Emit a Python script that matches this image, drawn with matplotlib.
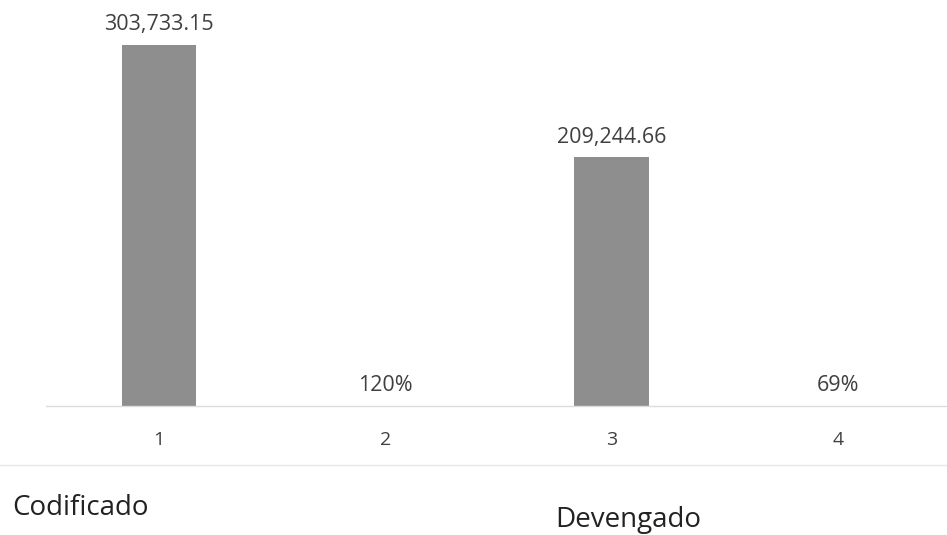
"""Bar chart: Codificado vs Devengado with percentage columns."""

import matplotlib
matplotlib.use("Agg")
import matplotlib.pyplot as plt
from matplotlib.lines import Line2D

categories = ["1", "2", "3", "4"]
values = [303733.15, 1.20, 209244.66, 0.69]
value_labels = ["303,733.15", "120%", "209,244.66", "69%"]
group_labels = ["Codificado", "Devengado"]

TEXT = "#404040"
BAR = "#8e8e8e"

plt.rcParams["font.family"] = ["Open Sans", "DejaVu Sans"]

fig = plt.figure(figsize=(9.47, 5.35), dpi=100)
ax = fig.add_axes([46 / 947, 0.241, 905 / 947, 0.74])

x = list(range(1, len(categories) + 1))
bars = ax.bar(x, values, width=0.33, color=BAR)

ax.set_xlim(0.5, 4.5)
ax.set_ylim(0, 333000)

for bar, lab in zip(bars, value_labels):
    ax.annotate(
        lab,
        (bar.get_x() + bar.get_width() / 2, bar.get_height()),
        xytext=(0, 7),
        textcoords="offset points",
        ha="center",
        va="bottom",
        fontsize=15.5,
        color=TEXT,
    )

ax.set_xticks(x)
ax.set_xticklabels(categories, fontsize=14, color=TEXT)
ax.tick_params(axis="x", length=0, pad=18)
ax.set_yticks([])
for side in ["top", "left", "right"]:
    ax.spines[side].set_visible(False)
ax.spines["bottom"].set_color("#dcdcdc")
ax.spines["bottom"].set_linewidth(1.0)

# faint line under the category numbers
fig.add_artist(Line2D([0, 1], [0.13, 0.13], transform=fig.transFigure,
                      color="#e6e6e6", linewidth=1.0))

fig.text(12 / 947, 1 - 508 / 535, group_labels[0], fontsize=20, color="#222222",
         va="center", ha="left")
fig.text(555 / 947, 1 - 520 / 535, group_labels[1], fontsize=20, color="#222222",
         va="center", ha="left")

fig.savefig("out.png", dpi=100)
